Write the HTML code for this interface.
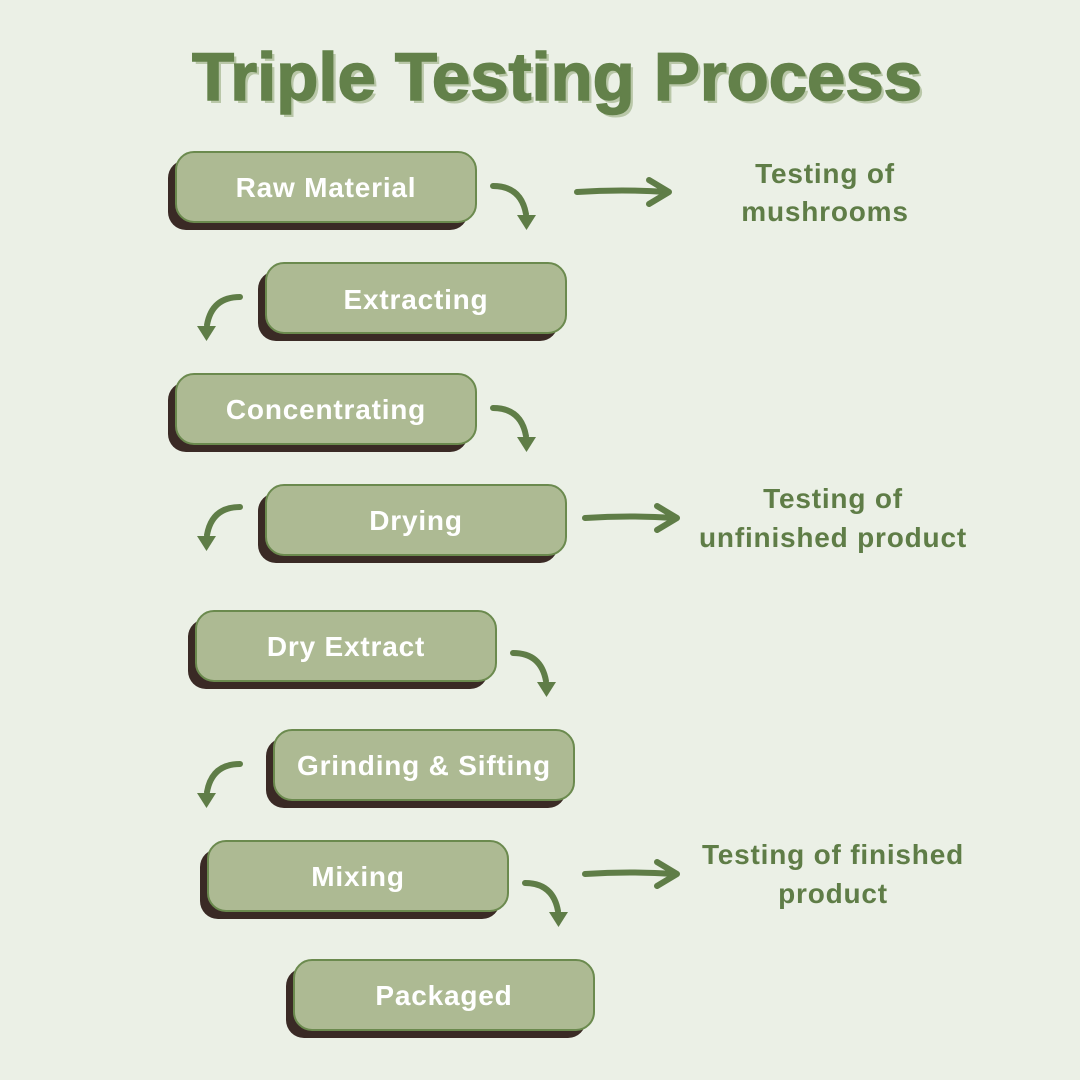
<!DOCTYPE html>
<html><head><meta charset="utf-8"><style>
html,body{margin:0;padding:0}
body{width:1080px;height:1080px;background:#ebf0e6;overflow:hidden}
svg{display:block}
.t{font-family:"Liberation Sans",sans-serif;font-weight:bold}
</style></head><body>
<svg width="1080" height="1080" viewBox="0 0 1080 1080" xmlns="http://www.w3.org/2000/svg">
<defs>
<g id="cr"><path d="M0 0 Q28 0 33 28" fill="none" stroke="#5f7d47" stroke-width="6" stroke-linecap="round"/><path d="M24 29 L43 29 L33.5 44 Z" fill="#5f7d47"/></g>
<g id="cl"><path d="M0 0 Q-28 0 -33 28" fill="none" stroke="#5f7d47" stroke-width="6" stroke-linecap="round"/><path d="M-24 29 L-43 29 L-33.5 44 Z" fill="#5f7d47"/></g>
<g id="sa"><path d="M0 0 Q45 -3 90 0" fill="none" stroke="#5f7d47" stroke-width="6" stroke-linecap="round"/><path d="M72 -12 L92 0 L72 12" fill="none" stroke="#5f7d47" stroke-width="6" stroke-linecap="round" stroke-linejoin="round"/></g>
</defs>
<text x="192" y="100" class="t" font-size="68" fill="#b9c7a8" transform="translate(3,3)" textLength="730" lengthAdjust="spacingAndGlyphs">Triple Testing Process</text>
<text x="192" y="100" class="t" font-size="68" fill="#63814a" stroke="#63814a" stroke-width="1.5" textLength="730" lengthAdjust="spacingAndGlyphs">Triple Testing Process</text>

<g font-size="28" class="t" fill="#fff" text-anchor="middle" letter-spacing="0.8">
<rect x="168" y="160" width="300" height="70" rx="18" fill="#3a2a25"/><rect x="176" y="152" width="300" height="70" rx="18" fill="#adba93" stroke="#6b8a4e" stroke-width="2"/><text x="326" y="197">Raw Material</text>
<rect x="258" y="271" width="300" height="70" rx="18" fill="#3a2a25"/><rect x="266" y="263" width="300" height="70" rx="18" fill="#adba93" stroke="#6b8a4e" stroke-width="2"/><text x="416" y="309">Extracting</text>
<rect x="168" y="382" width="300" height="70" rx="18" fill="#3a2a25"/><rect x="176" y="374" width="300" height="70" rx="18" fill="#adba93" stroke="#6b8a4e" stroke-width="2"/><text x="326" y="419">Concentrating</text>
<rect x="258" y="493" width="300" height="70" rx="18" fill="#3a2a25"/><rect x="266" y="485" width="300" height="70" rx="18" fill="#adba93" stroke="#6b8a4e" stroke-width="2"/><text x="416" y="530">Drying</text>
<rect x="188" y="619" width="300" height="70" rx="18" fill="#3a2a25"/><rect x="196" y="611" width="300" height="70" rx="18" fill="#adba93" stroke="#6b8a4e" stroke-width="2"/><text x="346" y="656">Dry Extract</text>
<rect x="266" y="738" width="300" height="70" rx="18" fill="#3a2a25"/><rect x="274" y="730" width="300" height="70" rx="18" fill="#adba93" stroke="#6b8a4e" stroke-width="2"/><text x="424" y="775">Grinding &amp; Sifting</text>
<rect x="200" y="849" width="300" height="70" rx="18" fill="#3a2a25"/><rect x="208" y="841" width="300" height="70" rx="18" fill="#adba93" stroke="#6b8a4e" stroke-width="2"/><text x="358" y="886">Mixing</text>
<rect x="286" y="968" width="300" height="70" rx="18" fill="#3a2a25"/><rect x="294" y="960" width="300" height="70" rx="18" fill="#adba93" stroke="#6b8a4e" stroke-width="2"/><text x="444" y="1005">Packaged</text>
</g>

<use href="#cr" x="493" y="186"/>
<use href="#cl" x="240" y="297"/>
<use href="#cr" x="493" y="408"/>
<use href="#cl" x="240" y="507"/>
<use href="#cr" x="513" y="653"/>
<use href="#cl" x="240" y="764"/>
<use href="#cr" x="525" y="883"/>

<use href="#sa" x="577" y="192"/>
<use href="#sa" x="585" y="518"/>
<use href="#sa" x="585" y="874"/>

<g font-size="28" class="t" fill="#5f7d47" text-anchor="middle" letter-spacing="0.8">
<text x="825" y="183">Testing of</text><text x="825" y="221">mushrooms</text>
<text x="833" y="508">Testing of</text><text x="833" y="547">unfinished product</text>
<text x="833" y="864">Testing of finished</text><text x="833" y="903">product</text>
</g>
</svg>
</body></html>
